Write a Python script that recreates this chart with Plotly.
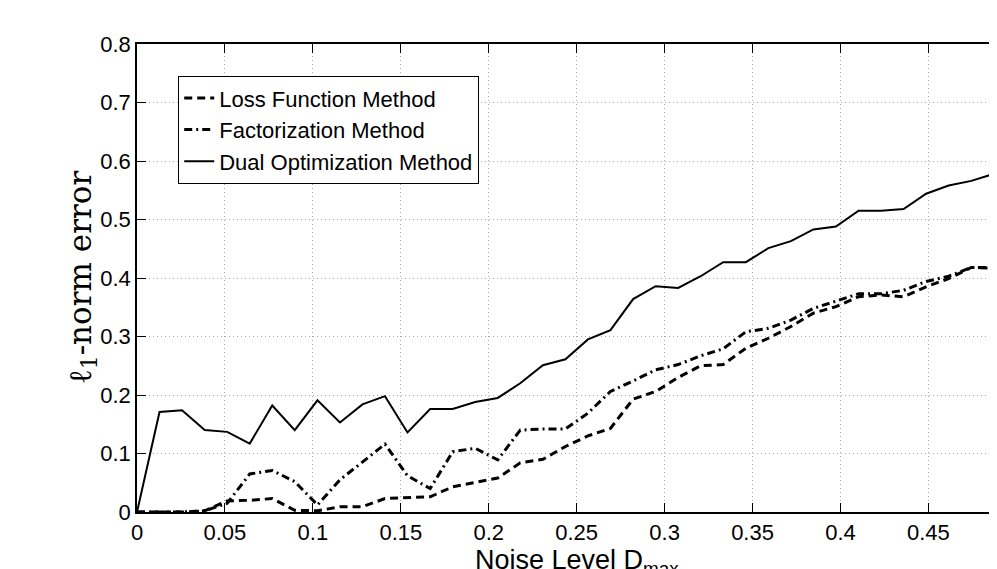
import plotly.graph_objects as go

noise_level = [0.0, 0.0128, 0.0256, 0.0385, 0.0513, 0.0641, 0.0769, 0.0897, 0.1026, 0.1154,
               0.1282, 0.1410, 0.1538, 0.1667, 0.1795, 0.1923, 0.2051, 0.2179, 0.2308, 0.2436,
               0.2564, 0.2692, 0.2821, 0.2949, 0.3077, 0.3205, 0.3333, 0.3462, 0.3590, 0.3718,
               0.3846, 0.3974, 0.4103, 0.4231, 0.4359, 0.4487, 0.4615, 0.4744, 0.4872, 0.5]

loss_function = [0, 0, 0, 0.002, 0.019, 0.020, 0.023, 0.003, 0.002, 0.009,
                 0.009, 0.023, 0.024, 0.026, 0.043, 0.050, 0.058, 0.084, 0.090, 0.112,
                 0.130, 0.143, 0.193, 0.206, 0.230, 0.250, 0.252, 0.280, 0.297, 0.317,
                 0.340, 0.351, 0.368, 0.371, 0.368, 0.385, 0.399, 0.418, 0.417, 0.420]

factorization = [0, 0, 0, 0.002, 0.015, 0.065, 0.071, 0.052, 0.012, 0.055,
                 0.086, 0.116, 0.062, 0.040, 0.103, 0.109, 0.089, 0.140, 0.142, 0.142,
                 0.169, 0.206, 0.224, 0.243, 0.252, 0.267, 0.279, 0.308, 0.314, 0.328,
                 0.348, 0.361, 0.373, 0.373, 0.379, 0.394, 0.403, 0.418, 0.418, 0.420]

dual_optimization = [0, 0.171, 0.174, 0.140, 0.137, 0.117, 0.182, 0.140, 0.191, 0.153,
                     0.184, 0.198, 0.136, 0.176, 0.176, 0.188, 0.195, 0.220, 0.251, 0.261,
                     0.295, 0.311, 0.364, 0.386, 0.383, 0.403, 0.427, 0.427, 0.451, 0.463,
                     0.483, 0.488, 0.515, 0.515, 0.518, 0.544, 0.558, 0.566, 0.578, 0.585]

x_ticks = [0, 0.05, 0.1, 0.15, 0.2, 0.25, 0.3, 0.35, 0.4, 0.45]
x_tick_labels = ["0", "0.05", "0.1", "0.15", "0.2", "0.25", "0.3", "0.35", "0.4", "0.45"]
y_ticks = [0, 0.1, 0.2, 0.3, 0.4, 0.5, 0.6, 0.7, 0.8]
y_tick_labels = ["0", "0.1", "0.2", "0.3", "0.4", "0.5", "0.6", "0.7", "0.8"]

SANS = "Liberation Sans, Arial, Helvetica, sans-serif"

fig = go.Figure()
fig.add_trace(go.Scatter(x=noise_level, y=loss_function, mode="lines",
                         name="Loss Function Method",
                         line=dict(color="black", width=3, dash="8px,5px")))
fig.add_trace(go.Scatter(x=noise_level, y=factorization, mode="lines",
                         name="Factorization Method",
                         line=dict(color="black", width=3, dash="8px,4px,2px,4px")))
fig.add_trace(go.Scatter(x=noise_level, y=dual_optimization, mode="lines",
                         name="Dual Optimization Method",
                         line=dict(color="black", width=2)))

fig.update_layout(
    width=989, height=561,
    margin=dict(l=129, r=0, t=36, b=57, autoexpand=False),
    paper_bgcolor="white", plot_bgcolor="white",
    font=dict(family=SANS, size=22, color="black"),
    showlegend=True,
    legend=dict(x=0.0477, y=0.9316, xanchor="left", yanchor="top",
                bgcolor="white", bordercolor="black", borderwidth=1.2,
                font=dict(size=22), tracegroupgap=0, itemwidth=30),
)
fig.update_xaxes(
    range=[0, 0.489], tickvals=x_ticks, ticktext=x_tick_labels,
    showline=True, linecolor="black", linewidth=2, mirror="ticks",
    ticks="inside", ticklen=9, tickcolor="black", tickwidth=1.2,
    tickfont=dict(size=22),
    showgrid=True, gridcolor="#a8a8a8", griddash="1px,3px", gridwidth=1,
    zeroline=False, automargin=False,
)
fig.update_yaxes(
    range=[0, 0.8], tickvals=y_ticks, ticktext=y_tick_labels,
    showline=True, linecolor="black", linewidth=1.5, mirror=False,
    ticks="inside", ticklen=9, tickcolor="black", tickwidth=1.2,
    tickfont=dict(size=22),
    showgrid=True, gridcolor="#a8a8a8", griddash="1px,3px", gridwidth=1,
    zeroline=False, automargin=False,
)

# axis titles as annotations (x title centred on the full 0-0.5 axis, which the window crops)
fig.add_annotation(text="Noise Level D<sub>max</sub>", xref="x", yref="paper",
                   x=0.25, y=-0.066, xanchor="center", yanchor="top",
                   showarrow=False, font=dict(family=SANS, size=27))
fig.add_annotation(text="ℓ<sub>1</sub>-norm error", xref="paper", yref="paper",
                   x=-0.064, y=0.502, xanchor="center", yanchor="middle", textangle=-90,
                   showarrow=False,
                   font=dict(family="DejaVu Serif, Liberation Serif, serif", size=31))

fig.write_html("out.html")
